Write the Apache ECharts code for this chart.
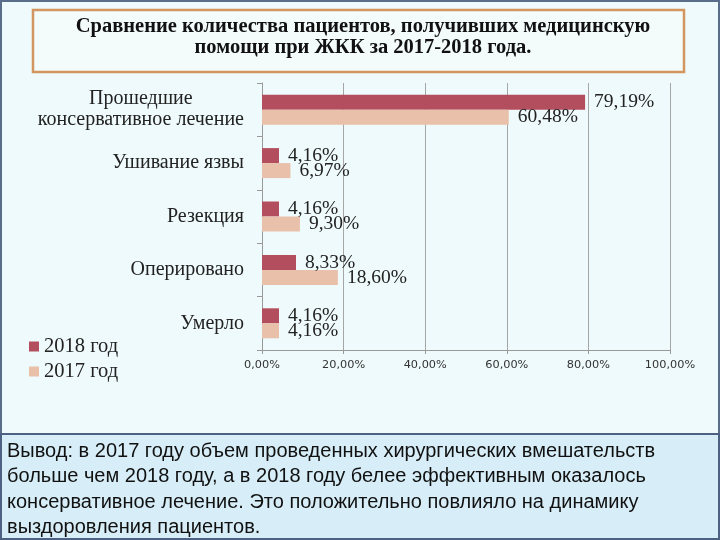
<!DOCTYPE html>
<html><head><meta charset="utf-8">
<script src="https://cdn.jsdelivr.net/npm/echarts@6/dist/echarts.min.js"></script>
<style>html,body{margin:0;padding:0;background:#eefafb;}#c{width:720px;height:540px;}</style>
</head><body><div id="c"></div>
<script>
var categories = ['Прошедшие\nконсервативное лечение', 'Ушивание язвы', 'Резекция', 'Оперировано', 'Умерло'];
var seriesNames = ['2018 год', '2017 год'];
var values2018 = [79.19, 4.16, 4.16, 8.33, 4.16];
var values2017 = [60.48, 6.97, 9.30, 18.60, 4.16];
var xTicks = [0, 20, 40, 60, 80, 100];
var titleText = 'Сравнение количества пациентов, получивших медицинскую\nпомощи при ЖКК за 2017-2018 года.';
var conclusion = 'Вывод: в 2017 году объем проведенных хирургических вмешательств\nбольше чем 2018 году, а в 2018 году белее эффективным оказалось\nконсервативное лечение. Это положительно повлияло на динамику\nвыздоровления пациентов.';

function pct(v){ return v.toFixed(2).replace('.', ',') + '%'; }
var serif = '"Liberation Serif", "Times New Roman", serif';
var chart = echarts.init(document.getElementById('c'));
var labelStyle = {show:true, position:'right', distance:9, color:'#222', fontFamily:serif, fontSize:19.5,
  formatter:function(p){return pct(p.value);}};
chart.setOption({
  backgroundColor:'#eefafb',
  animation:false,
  graphic:[
    {type:'rect', z:-10, shape:{x:1,y:1,width:718,height:538}, style:{fill:'#eefafb', stroke:'#5a6e8c', lineWidth:2}},
    {type:'rect', z:-9, shape:{x:33,y:10,width:651,height:62}, style:{fill:'#f3fbfb', stroke:'#d49660', lineWidth:2.5}},
    {type:'rect', z:-9, shape:{x:1,y:434,width:718,height:105}, style:{fill:'#d7eef8', stroke:'#4d6282', lineWidth:2}},
    {type:'text', z:5, left:7, top:439, style:{text:conclusion, font:'20px "Liberation Sans", Arial, sans-serif', fill:'#111', lineHeight:25.3}}
  ],
  title:{text:titleText, left:358, top:11, textAlign:'center',
    textStyle:{fontFamily:serif, fontWeight:'bold', fontSize:20.5, color:'#111', lineHeight:21}},
  legend:{orient:'vertical', left:24, top:331, itemWidth:10, itemHeight:10, itemGap:4, icon:'rect',
    data:seriesNames, textStyle:{fontFamily:serif, fontSize:20.5, color:'#222'}},
  grid:{left:262, right:50, top:83, bottom:190, containLabel:false},
  xAxis:{type:'value', min:xTicks[0], max:xTicks[xTicks.length-1], interval:20,
    axisLine:{show:true, lineStyle:{color:'#999'}},
    axisTick:{show:true, length:4, lineStyle:{color:'#999'}},
    splitLine:{show:true, lineStyle:{color:'#a6a6a6', width:1}},
    axisLabel:{formatter:function(v){return pct(v);}, margin:10, color:'#333', fontFamily:'"DejaVu Sans", Verdana, sans-serif', fontSize:11.3}},
  yAxis:{type:'category', inverse:true, data:categories,
    axisLine:{show:true, lineStyle:{color:'#999'}},
    axisTick:{show:true, length:5, lineStyle:{color:'#999'}},
    axisLabel:{margin:18, color:'#222', fontFamily:serif, fontSize:20, lineHeight:21,
      formatter:function(v){ var ls=v.split('\n'); return ls.length>1 ? ls.map(function(l){return '{c|'+l+'}';}).join('\n') : v; },
      rich:{c:{align:'center', fontFamily:serif, fontSize:20, lineHeight:21, color:'#222'}}}},
  series:[
    {name:seriesNames[0], type:'bar', data:values2018, barWidth:15, barGap:'0%', itemStyle:{color:'#b24e5e'}, label:labelStyle},
    {name:seriesNames[1], type:'bar', data:values2017, barWidth:15, barGap:'0%', itemStyle:{color:'#e9c0aa'}, label:labelStyle}
  ]
});
</script></body></html>
